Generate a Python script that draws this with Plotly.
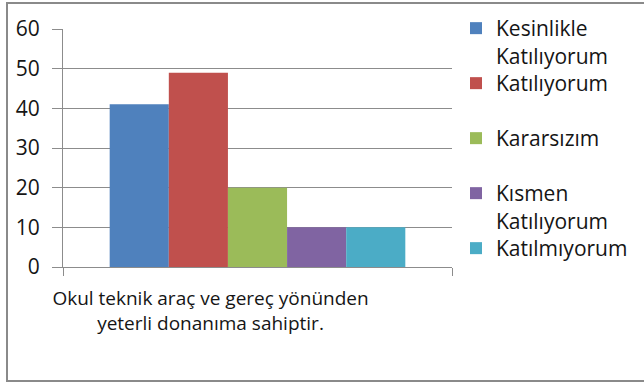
import plotly.graph_objects as go

# Survey item and response counts
category = ["Okul teknik araç ve gereç yönünden<br>yeterli donanıma sahiptir."]
series_names = [
    "Kesinlikle<br>Katılıyorum",
    "Katılıyorum",
    "Kararsızım",
    "Kısmen<br>Katılıyorum",
    "Katılmıyorum",
]
series_values = [41, 49, 20, 10, 10]
series_colors = ["#4F81BD", "#C0504D", "#9BBB59", "#8064A2", "#4BACC6"]

FONT = "Open Sans"
TEXT = "#151515"
GRID = "#8c8c8c"

# plot area in pixels
L, R, T, B = 63, 452, 29, 267
W, H = 644, 383


def py_to_paper(py):
    return (B - py) / (B - T)


# each legend entry gets its own legend box, spaced evenly down the right side
legend_ids = ["legend", "legend2", "legend3", "legend4", "legend5"]
legend_tops = [8, 63, 118, 173, 228]

fig = go.Figure()
for name, val, col, lid in zip(series_names, series_values, series_colors, legend_ids):
    fig.add_trace(go.Bar(
        x=category, y=[val], name=name, legend=lid,
        marker=dict(color=col, line=dict(width=0)),
    ))

legend_common = dict(
    x=(456 - L) / (R - L), xanchor="left", yanchor="top",
    font=dict(family=FONT, size=21, color=TEXT),
    valign="top", bgcolor="rgba(0,0,0,0)", borderwidth=0,
)
layout_legends = {
    lid: dict(legend_common, y=py_to_paper(top))
    for lid, top in zip(legend_ids, legend_tops)
}

fig.update_layout(
    width=W, height=H,
    margin=dict(l=L, r=W - R, t=T, b=H - B, autoexpand=False),
    paper_bgcolor="white", plot_bgcolor="white",
    barmode="group", bargap=0.24, bargroupgap=0,
    font=dict(family=FONT, size=19, color=TEXT),
    showlegend=True,
    **layout_legends,
)

fig.update_yaxes(
    range=[0, 60], dtick=10,
    showgrid=True, gridcolor=GRID, gridwidth=1,
    showline=True, linecolor=GRID, linewidth=1,
    ticks="outside", ticklen=10, tickcolor=GRID,
    ticklabelstandoff=8,
    tickfont=dict(family=FONT, size=21, color=TEXT),
    zeroline=False,
)
fig.update_xaxes(
    showline=True, linecolor=GRID, linewidth=1,
    ticks="outside", ticklen=8, tickcolor=GRID, tickson="boundaries",
    ticklabelshift=-47, ticklabelstandoff=14,
    tickfont=dict(family=FONT, size=19, color=TEXT),
)

# Outer chart frame
fig.add_shape(
    type="rect", xref="paper", yref="paper",
    x0=(7 - L) / (R - L), x1=1.6,
    y0=py_to_paper(381), y1=py_to_paper(3),
    line=dict(color="#8a8a8a", width=2), fillcolor="rgba(0,0,0,0)",
    layer="below",
)

fig.write_html("out.html")
